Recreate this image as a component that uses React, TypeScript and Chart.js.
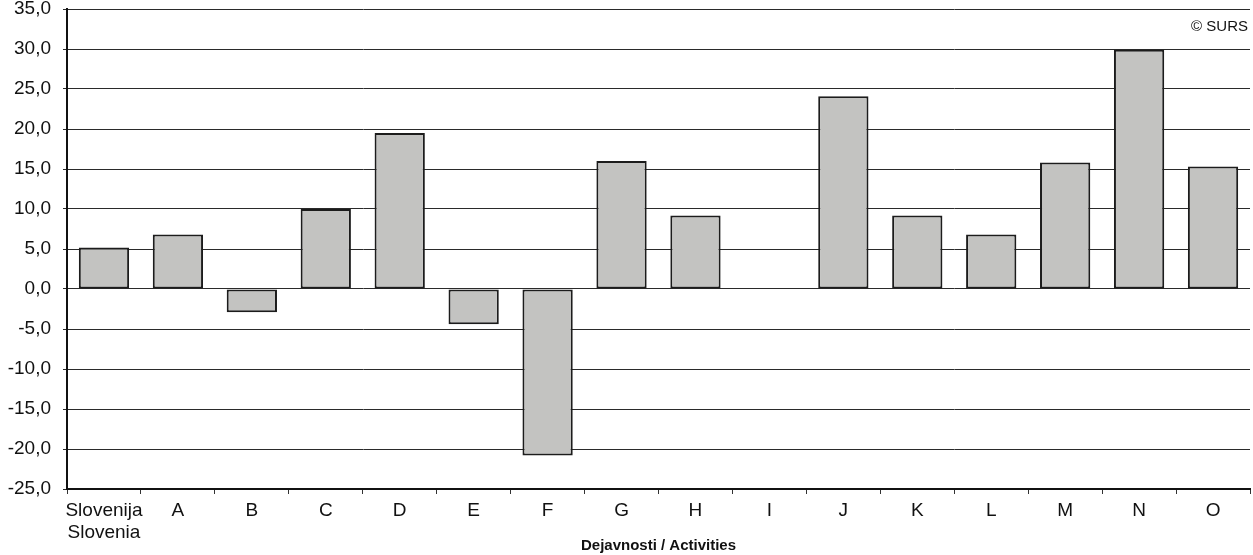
import React, { useEffect, useRef } from "react";
import { Chart, registerables } from "chart.js";

Chart.register(...registerables);

const categories: (string | string[])[] = [
  ["Slovenija", "Slovenia"], "A", "B", "C", "D", "E", "F", "G", "H", "I", "J", "K", "L", "M", "N", "O",
];
const values: number[] = [5.2, 6.8, -2.9, 10.0, 19.5, -4.4, -20.8, 16.0, 9.2, 0, 24.1, 9.2, 6.8, 15.8, 29.9, 15.3];
const yMin = -25;
const yMax = 35;
const yStep = 5;
const xTitle = "Dejavnosti / Activities";
const copyright = "© SURS";

const FONT = "'Liberation Sans', Arial, sans-serif";

export default function App() {
  const ref = useRef<HTMLCanvasElement | null>(null);
  useEffect(() => {
    if (!ref.current) return;
    const copyPlugin = {
      id: "copy",
      afterDraw(chart: any) {
        const { ctx, chartArea } = chart;
        ctx.save();
        ctx.font = `15px ${FONT}`;
        ctx.fillStyle = "#111";
        ctx.textAlign = "right";
        ctx.textBaseline = "middle";
        ctx.fillText(copyright, chartArea.right - 2, chartArea.top + 18);
        ctx.restore();
      },
    };
    const chart = new Chart(ref.current, {
      type: "bar",
      data: {
        labels: categories,
        datasets: [
          {
            data: values,
            backgroundColor: "#c3c3c1",
            borderColor: "#1c1c1c",
            borderWidth: 2,
            borderSkipped: false,
            barPercentage: 0.68,
            categoryPercentage: 1,
          },
        ],
      },
      options: {
        animation: false,
        responsive: false,
        maintainAspectRatio: false,
        layout: { padding: { top: 9, right: 3, bottom: 0, left: 0 } },
        plugins: { legend: { display: false }, tooltip: { enabled: false } },
        scales: {
          x: {
            grid: { display: true, drawOnChartArea: false, drawTicks: true, tickLength: 5, offset: true, color: "#333" },
            border: { display: true, color: "#111", width: 2 },
            ticks: { color: "#111", font: { family: FONT, size: 19, lineHeight: 1.2 }, padding: 5, maxRotation: 0, autoSkip: false },
            title: { display: true, text: xTitle, color: "#111", font: { family: FONT, size: 15, weight: "bold" }, padding: { top: 0, bottom: 0 } },
            afterFit: (s: any) => { s.height = 66; s.paddingLeft = 0; s.paddingRight = 0; },
          },
          y: {
            min: yMin,
            max: yMax,
            grid: { color: "#2a2a2a", lineWidth: 1, tickLength: 4 },
            border: { display: true, color: "#111", width: 2 },
            ticks: {
              stepSize: yStep,
              color: "#111",
              font: { family: FONT, size: 19 },
              padding: 12,
              callback: (v: any) => Number(v).toFixed(1).replace(".", ","),
            },
            afterFit: (s: any) => { s.width = 67; s.paddingTop = 0; s.paddingBottom = 0; },
          },
        },
      },
      plugins: [copyPlugin],
    });
    return () => chart.destroy();
  }, []);
  return (
    <div style={{ position: "absolute", left: 0, top: 0, width: 1253, height: 555, background: "#fff" }}>
      <canvas ref={ref} width={1253} height={555} style={{ display: "block" }} />
    </div>
  );
}
